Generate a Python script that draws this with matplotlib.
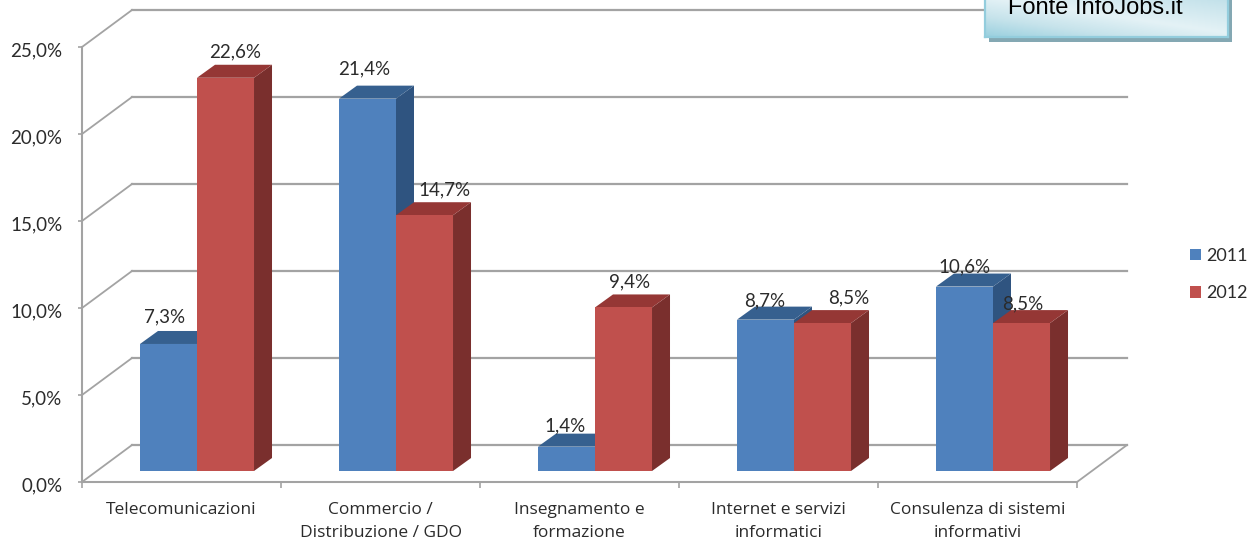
import numpy as np
import matplotlib
matplotlib.use("Agg")
import matplotlib.pyplot as plt
from matplotlib.patches import Polygon, Rectangle, Patch
from matplotlib.transforms import Affine2D
from matplotlib.colors import LinearSegmentedColormap

categories = ["Telecomunicazioni", "Commercio /\nDistribuzione / GDO", "Insegnamento e\nformazione",
              "Internet e servizi\ninformatici", "Consulenza di sistemi\ninformativi"]
years = ["2011", "2012"]
values_2011 = [7.3, 21.4, 1.4, 8.7, 10.6]
values_2012 = [22.6, 14.7, 9.4, 8.5, 8.5]
y_ticks = [0, 5, 10, 15, 20, 25]
label_shift_2011 = [(-4, 27), (-3, 30), (-1, 21), (-1, 19), (0, 20)]
label_shift_2012 = [(10, 26), (20, 25), (6, 26), (26, 25), (1, 19)]

FRONT = "#4F81BD", "#C0504D"
SIDE = "#2F5480", "#7A2F2D"
TOP = "#36608F", "#953735"
GRID = "#A3A3A3"
TEXT = "#2b2b2b"
FONT = "Lato"
W, H = 1259, 544
DX, DY = 50, 37          # depth of the chart floor, pixels
BX0, BY0 = 15.5, 11      # bar front offset from the front plane, pixels
BX, BY = 18, 13          # bar depth, pixels
BAR_W = 0.2865

plt.rcParams["font.family"] = FONT
fig = plt.figure(figsize=(W / 100, H / 100), dpi=100, facecolor="white")
ax = fig.add_axes([82 / W, (H - 482) / H, 995 / W, 435 / H])
ax.set_xlim(0, 5)
ax.set_ylim(0, 25)
ax.patch.set_alpha(0)
for s in ("top", "right"):
    ax.spines[s].set_visible(False)
for s in ("left", "bottom"):
    ax.spines[s].set_color(GRID)
    ax.spines[s].set_linewidth(1.5)

ax.set_yticks(y_ticks)
ax.set_yticklabels([f"{v:.1f}%".replace(".", ",") for v in y_ticks], fontsize=13.5, color=TEXT)
ax.tick_params(axis="y", color=GRID, width=1.2, length=3, pad=11)
for lab in ax.get_yticklabels():
    lab.set_transform(lab.get_transform() + Affine2D().translate(0, -2.5))
ax.set_xticks(np.arange(6))
ax.set_xticklabels([])
ax.tick_params(axis="x", which="major", color=GRID, width=1.2, length=4)
ax.set_xticks(np.arange(5) + 0.5, categories, minor=True, fontsize=12.5, color=TEXT,
              linespacing=1.58, family="Open Sans")
ax.tick_params(axis="x", which="minor", length=0, pad=14.5)


def shifted(dx, dy):
    return ax.transData + Affine2D().translate(dx, dy)


back = shifted(DX, DY)
for v in y_ticks:
    ax.plot([0, 5], [v, v], color=GRID, lw=1.6, transform=back, clip_on=False, zorder=1)
    x0, y0 = ax.transData.transform((0, v))
    ax.plot([x0, x0 + DX], [y0, y0 + DY], color=GRID, lw=1.3, transform=None, clip_on=False, zorder=1)
x1, y1 = ax.transData.transform((5, 0))
ax.plot([x1, x1 + DX], [y1, y1 + DY], color=GRID, lw=1.3, transform=None, clip_on=False, zorder=1)

to_px = shifted(BX0, BY0)


def draw_bar(left, value, s):
    (xa, ya), (xb, yb) = to_px.transform([(left, 0), (left + BAR_W, value)])
    z = 3 + s * 0.1
    side = [(xb, ya), (xb + BX, ya + BY), (xb + BX, yb + BY), (xb, yb)]
    top = [(xa, yb), (xb, yb), (xb + BX, yb + BY), (xa + BX, yb + BY)]
    ax.add_patch(Polygon(side, closed=True, fc=SIDE[s], ec="none", transform=None, clip_on=False, zorder=z))
    ax.add_patch(Polygon(top, closed=True, fc=TOP[s], ec="none", transform=None, clip_on=False, zorder=z))
    ax.add_patch(Rectangle((left, 0), BAR_W, value, fc=FRONT[s], ec="none", transform=to_px, clip_on=False, zorder=z))


for i, (a, b) in enumerate(zip(values_2011, values_2012)):
    c = i + 0.5
    draw_bar(c - BAR_W, a, 0)
    draw_bar(c, b, 1)
    for v, left, sh in ((a, c - BAR_W, label_shift_2011[i]), (b, c, label_shift_2012[i])):
        ax.annotate(f"{v:.1f}%".replace(".", ","), xy=(left + BAR_W / 2, v), xycoords=to_px,
                    xytext=sh, textcoords="offset pixels", ha="center", va="center",
                    fontsize=13.5, color=TEXT, zorder=6, annotation_clip=False)

leg = ax.legend(handles=[Patch(fc=FRONT[0], label=years[0]), Patch(fc=FRONT[1], label=years[1])],
                loc="center left", bbox_to_anchor=(1190 / W, (H - 274.5) / H), bbox_transform=fig.transFigure,
                frameon=False, fontsize=13, handlelength=0.62, handleheight=0.62, handletextpad=0.25,
                labelspacing=1.18, borderpad=0, borderaxespad=0, labelcolor=TEXT)

# source note box, running off the top of the picture
bx0, bx1, by1 = 985, 1228, 37
fig.patches.append(Rectangle((bx0 + 4, H - by1 - 5), bx1 - bx0, by1 + 10, fc="#84A8B3", ec="none",
                             transform=None, figure=fig, zorder=8))
boxax = fig.add_axes([bx0 / W, (H - by1) / H, (bx1 - bx0) / W, by1 / H], zorder=9)
gx, gy = np.meshgrid(np.linspace(0, 1, 200), np.linspace(0, 1, 40))
u = (gx + (1 - gy)) / 2
shade = np.where(u < 0.55, (0.55 - u) / 0.55, 0.55 * (u - 0.55) / 0.45)
cmap = LinearSegmentedColormap.from_list("note", ["#E4F2F6", "#C6E3EB", "#9AD0DF"])
boxax.imshow(shade, origin="upper", aspect="auto", cmap=cmap, vmin=0, vmax=1)
boxax.set_xticks([])
boxax.set_yticks([])
for s in boxax.spines.values():
    s.set_color("#93CDDD")
    s.set_linewidth(1.6)
boxax.spines["top"].set_visible(False)
fig.text(1095 / W, (H - 14) / H, "Fonte InfoJobs.it", family="Liberation Sans", fontsize=17,
         color="black", ha="center", va="baseline", zorder=10)

fig.savefig("out.png", dpi=100, facecolor="white")
